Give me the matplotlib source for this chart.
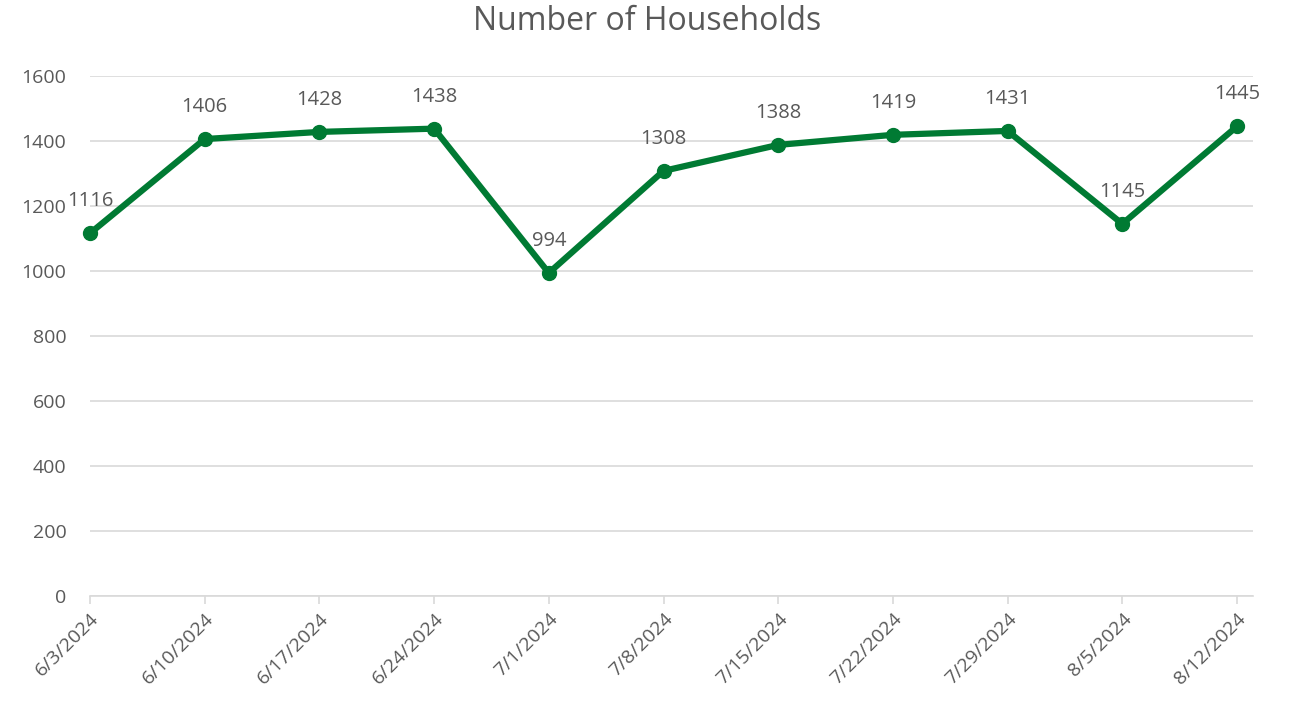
import matplotlib.pyplot as plt

# weekly data
dates = ['6/3/2024', '6/10/2024', '6/17/2024', '6/24/2024', '7/1/2024', '7/8/2024',
         '7/15/2024', '7/22/2024', '7/29/2024', '8/5/2024', '8/12/2024']
households = [1116, 1406, 1428, 1438, 994, 1308, 1388, 1419, 1431, 1145, 1445]
y_ticks = [0, 200, 400, 600, 800, 1000, 1200, 1400, 1600]

green = '#007A33'
text_grey = '#595959'
grid_grey = '#D9D9D9'

plt.rcParams['font.family'] = ['Open Sans', 'DejaVu Sans']

fig = plt.figure(figsize=(12.94, 7.01), dpi=100)
ax = fig.add_axes([90 / 1294, 1 - 596 / 701, (1253 - 90) / 1294, (596 - 76) / 701])

x = list(range(len(dates)))
ax.plot(x, households, color=green, linewidth=4.5, marker='o', markersize=10,
        solid_joinstyle='round', zorder=3, clip_on=False)

for xi, v in zip(x, households):
    ax.annotate(str(v), (xi, v), xytext=(0, 23), textcoords='offset points',
                ha='center', va='center', fontsize=14.5, color=text_grey)

ax.set_xlim(0, 10 + 16 / 114.7)
ax.set_ylim(0, 1600)
ax.set_yticks(y_ticks)
ax.set_xticks(x)
ax.set_xticklabels(dates, rotation=45, ha='right', rotation_mode='anchor')
ax.grid(axis='y', color=grid_grey, linewidth=1.2, zorder=0)

for s in ['top', 'right', 'left']:
    ax.spines[s].set_visible(False)
ax.spines['bottom'].set_color(grid_grey)
ax.spines['bottom'].set_linewidth(1.2)
ax.tick_params(axis='y', length=0, pad=17, labelsize=14, labelcolor=text_grey)
ax.tick_params(axis='x', length=6, width=1.2, color=grid_grey, pad=4,
               labelsize=14, labelcolor=text_grey)

fig.text(0.5, 1 - 22 / 701, 'Number of Households', ha='center', va='center',
         fontsize=23, color=text_grey)

fig.savefig('out.png', dpi=100)
